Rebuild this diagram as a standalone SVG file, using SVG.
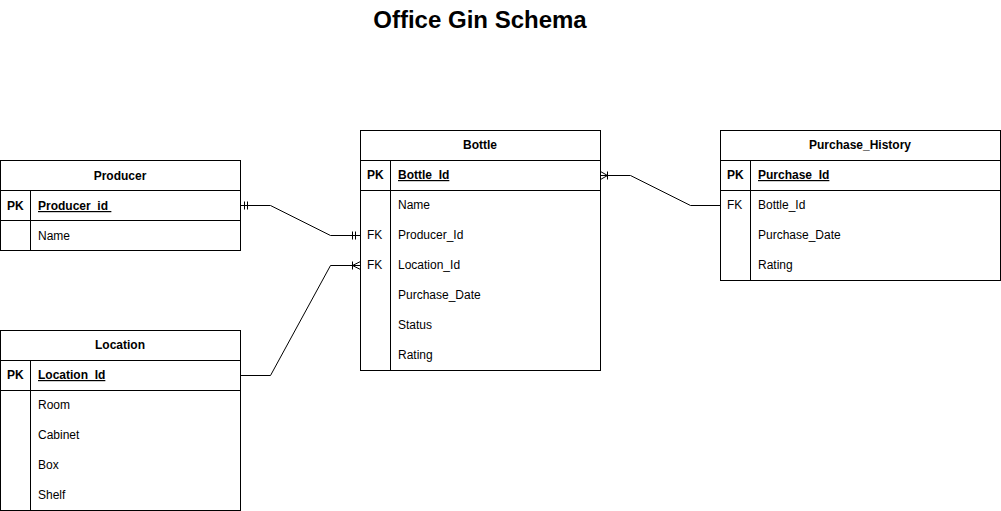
<svg xmlns="http://www.w3.org/2000/svg" width="1001" height="511" viewBox="0 0 1001 511">
<style>
  .box { fill: #ffffff; stroke: #000000; stroke-width: 1; }
  .ln { stroke: #000000; stroke-width: 1; fill: none; }
  text { font-family: "Liberation Sans", Arial, Helvetica, sans-serif; font-size: 12px; fill: #000000; }
  .hdr { font-weight: bold; text-anchor: middle; }
  .key { font-weight: bold; }
  .pk { font-weight: bold; text-decoration: underline; }
  .title { font-size: 24px; font-weight: bold; text-anchor: middle; }
  .conn { stroke: #000000; stroke-width: 1; fill: none; }
</style>
<rect x="0" y="0" width="1001" height="511" fill="#ffffff"/>
<text class="title" x="480" y="28">Office Gin Schema</text>

<g id="producer">
  <rect class="box" x="0.5" y="160.5" width="240" height="90"/>
  <line class="ln" x1="0.5" y1="190.5" x2="240.5" y2="190.5"/>
  <line class="ln" x1="0.5" y1="220.5" x2="240.5" y2="220.5"/>
  <line class="ln" x1="30.5" y1="190.5" x2="30.5" y2="250.5"/>
  <text class="hdr" x="120" y="180">Producer</text>
  <text class="key" x="7" y="210">PK</text>
  <text class="pk" x="38" y="210">Producer_id&#160;</text>
  <text x="38" y="240">Name</text>
</g>

<g id="location">
  <rect class="box" x="0.5" y="330.5" width="240" height="180"/>
  <line class="ln" x1="0.5" y1="360.5" x2="240.5" y2="360.5"/>
  <line class="ln" x1="0.5" y1="390.5" x2="240.5" y2="390.5"/>
  <line class="ln" x1="30.5" y1="360.5" x2="30.5" y2="510.5"/>
  <text class="hdr" x="120" y="349">Location</text>
  <text class="key" x="7" y="379">PK</text>
  <text class="pk" x="38" y="379">Location_Id</text>
  <text x="38" y="409">Room</text>
  <text x="38" y="439">Cabinet</text>
  <text x="38" y="469">Box</text>
  <text x="38" y="499">Shelf</text>
</g>

<g id="bottle">
  <rect class="box" x="360.5" y="130.5" width="240" height="240"/>
  <line class="ln" x1="360.5" y1="160.5" x2="600.5" y2="160.5"/>
  <line class="ln" x1="360.5" y1="190.5" x2="600.5" y2="190.5"/>
  <line class="ln" x1="390.5" y1="160.5" x2="390.5" y2="370.5"/>
  <text class="hdr" x="480" y="149">Bottle</text>
  <text class="key" x="367" y="179">PK</text>
  <text class="pk" x="398" y="179">Bottle_Id</text>
  <text x="398" y="209">Name</text>
  <text x="367" y="239">FK</text>
  <text x="398" y="239">Producer_Id</text>
  <text x="367" y="269">FK</text>
  <text x="398" y="269">Location_Id</text>
  <text x="398" y="299">Purchase_Date</text>
  <text x="398" y="329">Status</text>
  <text x="398" y="359">Rating</text>
</g>

<g id="purchase_history">
  <rect class="box" x="720.5" y="130.5" width="280" height="150"/>
  <line class="ln" x1="720.5" y1="160.5" x2="1000.5" y2="160.5"/>
  <line class="ln" x1="720.5" y1="190.5" x2="1000.5" y2="190.5"/>
  <line class="ln" x1="750.5" y1="160.5" x2="750.5" y2="280.5"/>
  <text class="hdr" x="860" y="149">Purchase_History</text>
  <text class="key" x="727" y="179">PK</text>
  <text class="pk" x="758" y="179">Purchase_Id</text>
  <text x="727" y="209">FK</text>
  <text x="758" y="209">Bottle_Id</text>
  <text x="758" y="239">Purchase_Date</text>
  <text x="758" y="269">Rating</text>
</g>

<g id="connectors">
  <polyline class="conn" points="240.5,205.5 270.5,205.5 330.5,235.5 360.5,235.5"/>
  <line class="conn" x1="244.5" y1="201.5" x2="244.5" y2="209.5"/>
  <line class="conn" x1="247.5" y1="201.5" x2="247.5" y2="209.5"/>
  <line class="conn" x1="352.5" y1="231.5" x2="352.5" y2="239.5"/>
  <line class="conn" x1="355.5" y1="231.5" x2="355.5" y2="239.5"/>
  <polyline class="conn" points="240.5,375.5 270.5,375.5 330.5,265.5 360.5,265.5"/>
  <line class="conn" x1="352.5" y1="261.5" x2="352.5" y2="269.5"/>
  <polyline class="conn" points="360.5,261.5 352.5,265.5 360.5,269.5"/>
  <polyline class="conn" points="600.5,175.5 630.5,175.5 690.5,205.5 720.5,205.5"/>
  <line class="conn" x1="607.5" y1="171.5" x2="607.5" y2="179.5"/>
  <polyline class="conn" points="600.5,171.5 607.5,175.5 600.5,179.5"/>
</g>
</svg>
